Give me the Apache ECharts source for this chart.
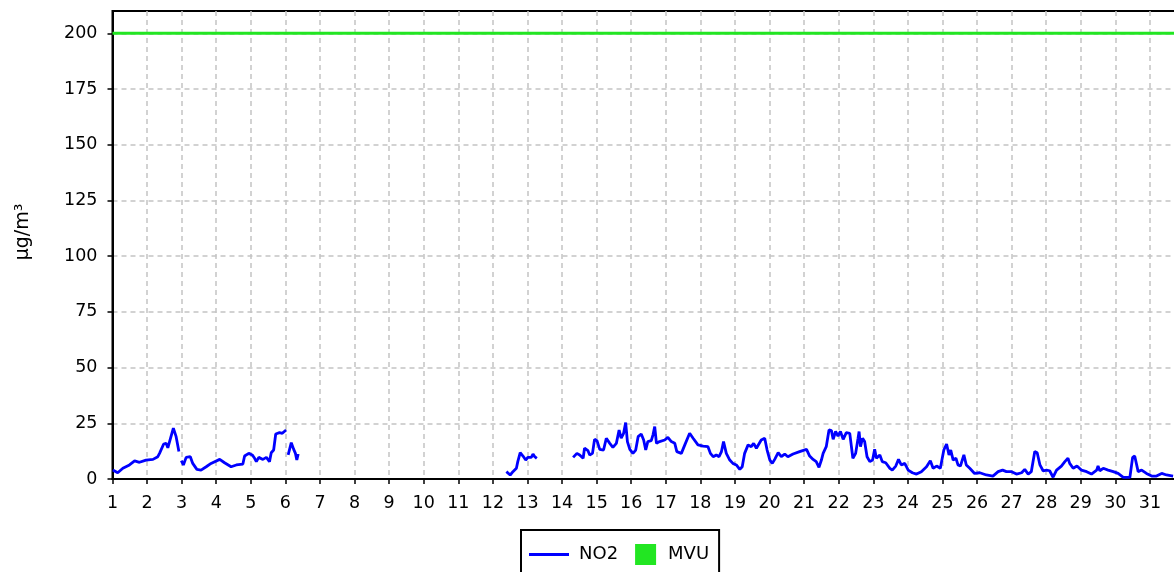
<!DOCTYPE html>
<html>
<head>
<meta charset="utf-8">
<script src="https://cdn.jsdelivr.net/npm/echarts@6/dist/echarts.min.js"></script>
<style>
html,body{margin:0;padding:0;background:#fff;}
#c{width:1174px;height:572px;}
</style>
</head>
<body>
<div id="c"></div>
<script>
// Day-of-month positions (fractional days) of the NO2 readings; null values mark gaps
const dayPos = [
 1.01,1.15,1.30,1.49,1.64,1.78,1.97,2.17,2.31,2.36,2.48,2.55,2.60,2.65,2.76,2.84,2.92,2.95,
 2.99,3.05,3.13,3.25,3.32,3.44,3.56,3.71,3.85,4.10,4.24,4.43,4.58,4.77,4.82,4.94,5.04,5.11,5.16,5.23,5.35,5.45,5.54,5.59,5.66,5.72,5.83,5.91,5.95,6.02,6.05,
 6.08,6.17,6.24,6.29,6.33,6.37,6.40,
 12.39,12.50,12.58,12.68,12.72,12.79,12.87,12.95,13.01,13.11,13.16,13.21,13.27,13.80,
 14.32,14.43,14.51,14.56,14.61,14.65,14.75,14.80,14.88,14.94,15.01,15.09,15.20,15.28,15.38,15.47,15.57,15.65,15.71,15.78,15.84,15.89,15.96,
 16.05,16.13,16.20,16.29,16.36,16.42,16.48,16.58,16.63,16.68,16.73,16.82,16.97,17.06,17.16,17.26,17.32,17.45,17.55,17.69,17.79,17.93,
 18.08,18.22,18.29,18.37,18.46,18.54,18.61,18.67,18.75,18.85,18.94,19.04,19.14,19.21,19.28,19.38,19.47,19.54,19.62,19.76,19.86,19.93,
 20.01,20.08,20.15,20.25,20.34,20.44,20.53,20.68,20.87,21.07,21.16,21.26,21.35,21.43,21.50,21.55,21.64,21.72,21.79,21.84,21.91,21.98,
 22.05,22.13,22.22,22.32,22.41,22.49,22.56,22.59,22.63,22.69,22.75,22.82,22.90,22.98,23.04,23.09,23.19,23.26,23.36,23.48,23.55,23.65,23.73,23.81,23.91,
 24.01,24.13,24.25,24.39,24.54,24.65,24.73,24.83,24.94,25.04,25.12,25.19,25.24,25.31,25.39,25.45,25.52,25.62,25.69,25.79,25.93,
 26.08,26.27,26.46,26.61,26.74,26.85,27.00,27.14,27.29,27.38,27.48,27.57,27.67,27.74,27.82,27.91,
 28.01,28.10,28.20,28.30,28.44,28.54,28.63,28.68,28.78,28.89,29.02,29.17,29.31,29.46,29.50,29.55,29.65,29.79,29.94,
 30.08,30.23,30.42,30.50,30.56,30.61,30.66,30.76,30.90,31.05,31.19,31.34,31.48,31.67
];
const no2 = [
 4.0,2.8,4.8,6.3,8.1,7.5,8.5,8.8,10,11.5,15.7,16,14,13.3,22.8,19,12.3,null,
 8.2,6.3,9.7,10,7,4.3,4,5.5,7,8.8,7.3,5.5,6.3,6.7,10.3,11.5,10.8,9.3,7.8,9.7,8.8,9.7,7.8,11.8,13,20.2,20.8,20.5,21.3,22,null,
 10.8,16.3,13.3,11.5,8.5,11.2,null,
 3.3,1.8,3.3,4.8,7.8,11.8,10.3,8.5,9.7,9.7,11.2,10,9.3,null,
 9.7,11.5,10.8,11.5,9.3,13.8,12.7,10.8,11.5,17.8,17.2,13.3,13,18.3,16,14.2,16,22,18.3,20.5,25.3,16.8,13.3,
 11.5,13,19,20.2,17.5,13,16.8,17.2,19.8,23.5,16,16.8,17.5,18.7,16.8,16,12.3,11.5,15.3,20.5,18.3,15.3,
 14.8,14.5,11.5,10,10.8,10,12.3,16.8,11.5,8.5,7,6.3,4.3,5.5,11.5,15.3,14.5,16,13.8,17.5,18.3,13,
 8.5,7,8.8,11.8,10,11.2,10,11.2,12.3,13.3,10.3,8.8,7.8,5.2,8.5,11.5,14.5,22,21.7,17.8,21.3,19.3,
 21.3,17.8,20.8,20.5,9.3,11.5,18.3,21.3,14.5,18.3,16.8,10,7.8,8.5,13.3,9.3,10.8,7.8,7.3,4.8,4,5.8,8.8,6.3,7,
 4,2.8,2.2,3.3,5.5,8.2,4.8,5.8,4.8,13,15.7,10.8,13,8.5,9.3,6.3,5.8,10.8,6.3,4.8,2.5,
 2.8,1.8,1.3,3.3,4,3.3,3.3,2.2,2.8,4.3,2.2,3.3,12.3,11.8,6.3,3.7,
 4,3.7,0.8,4,5.8,7.8,9.3,7,4.8,5.8,4,3.3,2.2,4,5.8,3.7,4.8,4,3.3,
 2.5,0.7,0.7,9.7,10.3,9.7,3.3,4,2.5,1.3,1.3,2.5,1.8,1.3
];
const mvuDays = [1, 32];
const mvuValues = [200, 200];
const xTickLabels = Array.from({length: 31}, (_, i) => i + 1);
const yTicks = [0, 25, 50, 75, 100, 125, 150, 175, 200];

const chart = echarts.init(document.getElementById('c'), null, {renderer: 'canvas'});
const font = 'DejaVu Sans';
chart.setOption({
  animation: false,
  backgroundColor: '#ffffff',
  grid: {
    left: 112.5, top: 11, width: 1072, bottom: 93,
    outerBoundsMode: 'none', containLabel: false,
    show: true, borderColor: '#000', borderWidth: 2, backgroundColor: 'transparent'
  },
  legend: {
    left: 521, top: 530,
    padding: [14, 10, 14, 8],
    borderColor: '#000', borderWidth: 2,
    itemWidth: 40, itemHeight: 21, itemGap: 0,
    textStyle: {fontFamily: font, fontSize: 18, color: '#000', padding: [0, 0, 0, 5]},
    data: [
      {name: 'NO2', icon: 'path://M0,0H40V3H0Z'},
      {name: 'MVU', icon: 'path://M0,0M17,0H38V21H17Z M40,21'}
    ]
  },
  xAxis: {
    type: 'value', min: 1, max: 32, interval: 1,
    axisLine: {show: true, lineStyle: {color: '#000', width: 2}},
    axisTick: {show: true, length: 5, lineStyle: {color: '#000', width: 1.5}},
    axisLabel: {
      margin: 15, color: '#000', fontFamily: font, fontSize: 17.5,
      formatter: v => (xTickLabels.indexOf(v) >= 0 ? String(v) : '')
    },
    splitLine: {show: true, lineStyle: {color: '#c4c4c4', width: 1.5, type: [5, 4]}}
  },
  yAxis: {
    type: 'value', min: 0, max: 210, interval: 25,
    name: 'µg/m³', nameLocation: 'middle', nameGap: 80,
    nameTextStyle: {fontFamily: font, fontSize: 19, color: '#000', padding: [0, 0, 0, 26]},
    axisLine: {show: true, lineStyle: {color: '#000', width: 2}},
    axisTick: {show: true, length: 5, lineStyle: {color: '#000', width: 1.5}, customValues: yTicks},
    axisLabel: {
      margin: 15, color: '#000', fontFamily: font, fontSize: 17.5,
      customValues: yTicks,
      formatter: v => (yTicks.indexOf(v) >= 0 ? String(v) : '')
    },
    splitLine: {show: true, lineStyle: {color: '#c4c4c4', width: 1.5, type: [5, 4]}}
  },
  series: [
    {
      name: 'NO2', type: 'line', showSymbol: false, connectNulls: false,
      lineStyle: {color: '#0000ff', width: 2.8}, itemStyle: {color: '#0000ff'},
      data: dayPos.map((d, i) => [d, no2[i]]),
      z: 3
    },
    {
      name: 'MVU', type: 'line', showSymbol: false,
      lineStyle: {color: '#22e622', width: 3}, itemStyle: {color: '#22e622'},
      data: mvuDays.map((d, i) => [d, mvuValues[i]]),
      z: 2
    }
  ]
});
</script>
</body>
</html>
